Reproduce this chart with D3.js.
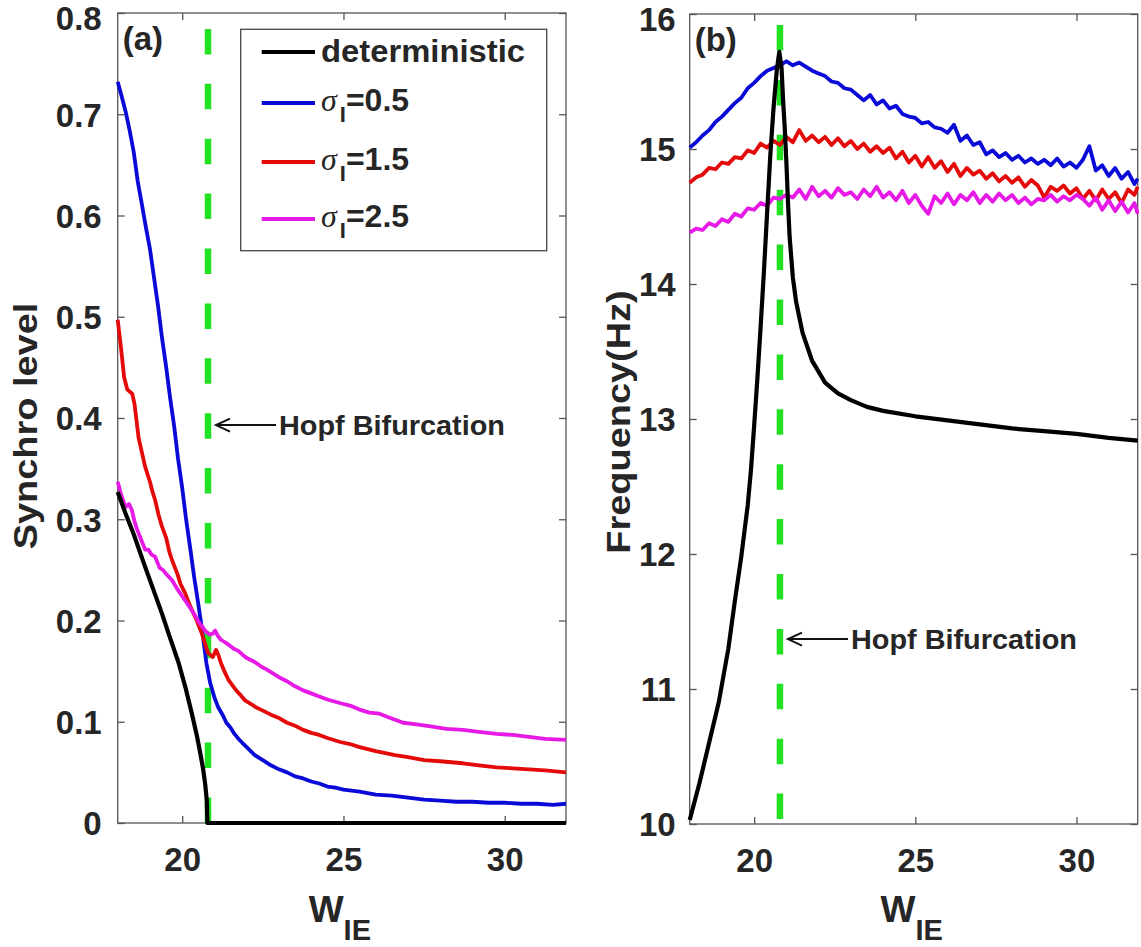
<!DOCTYPE html>
<html>
<head>
<meta charset="utf-8">
<script src="https://cdn.jsdelivr.net/npm/d3@7"></script>
<style>
  html, body { margin: 0; padding: 0; background: #fff; }
  svg { display: block; }
  text { font-family: "Liberation Sans", Arial, sans-serif; font-weight: bold; fill: #262626; }
</style>
</head>
<body>
<script>
// ---------------- data ----------------
const xTicks = [20, 25, 30];
const synchroTicks = [0, 0.1, 0.2, 0.3, 0.4, 0.5, 0.6, 0.7, 0.8];
const freqTicks = [10, 11, 12, 13, 14, 15, 16];
const hopfW = 20.8;          // Hopf bifurcation point of W_IE
const hopfLabelSynchro = 0.393;
const hopfLabelFreq = 11.37;

const seriesNames = ["deterministic", "0.5", "1.5", "2.5"];

// (a) synchronization level vs W_IE
const synchroDet = [[18,0.327],[18.24,0.306],[18.5,0.285],[18.85,0.253],[19.1,0.231],[19.37,0.207],[19.6,0.185],[19.89,0.158],[20.1,0.134],[20.3,0.108],[20.45,0.087],[20.56,0.069],[20.65,0.053],[20.71,0.039],[20.76,0.023],[20.78,0],[31.9,0]];
const synchroS05 = [[18,0.732],[18.12,0.718],[18.25,0.702],[18.37,0.684],[18.5,0.662],[18.62,0.634],[18.75,0.611],[18.87,0.589],[19,0.567],[19.12,0.540],[19.25,0.511],[19.37,0.480],[19.5,0.451],[19.62,0.421],[19.75,0.392],[19.87,0.360],[20,0.331],[20.12,0.300],[20.25,0.271],[20.37,0.243],[20.5,0.216],[20.62,0.190],[20.75,0.158],[20.87,0.138],[21,0.124],[21.12,0.114],[21.25,0.107],[21.37,0.099],[21.5,0.094],[21.62,0.088],[21.75,0.083],[21.87,0.079],[22,0.075],[22.25,0.067],[22.5,0.062],[22.75,0.057],[23,0.053],[23.25,0.050],[23.5,0.046],[23.75,0.044],[24,0.041],[24.25,0.039],[24.5,0.036],[24.75,0.035],[25,0.033],[25.5,0.031],[26,0.028],[26.5,0.027],[27,0.025],[27.5,0.023],[28,0.022],[28.5,0.021],[29,0.021],[29.5,0.020],[30,0.020],[30.5,0.019],[31,0.019],[31.5,0.018],[31.9,0.019]];
const synchroS15 = [[18,0.497],[18.1,0.470],[18.2,0.440],[18.3,0.428],[18.45,0.424],[18.52,0.414],[18.65,0.380],[18.75,0.366],[18.85,0.352],[19,0.337],[19.08,0.327],[19.16,0.319],[19.27,0.304],[19.37,0.293],[19.5,0.282],[19.6,0.268],[19.68,0.260],[19.85,0.246],[19.95,0.236],[20.09,0.227],[20.25,0.214],[20.35,0.207],[20.45,0.200],[20.61,0.187],[20.72,0.176],[20.8,0.168],[20.95,0.164],[21.05,0.171],[21.12,0.166],[21.2,0.158],[21.32,0.149],[21.44,0.141],[21.58,0.135],[21.7,0.130],[21.82,0.126],[21.95,0.121],[22.16,0.117],[22.3,0.114],[22.5,0.111],[22.75,0.107],[22.98,0.104],[23.25,0.099],[23.5,0.096],[23.75,0.092],[24,0.089],[24.25,0.087],[24.5,0.084],[24.9,0.080],[25.2,0.078],[25.5,0.075],[26,0.071],[26.3,0.069],[26.6,0.067],[27,0.065],[27.5,0.062],[28,0.061],[28.35,0.060],[28.7,0.059],[29.2,0.057],[29.75,0.055],[30.25,0.054],[30.75,0.053],[31.25,0.052],[31.9,0.050]];
const synchroS25 = [[18,0.337],[18.1,0.325],[18.24,0.312],[18.35,0.315],[18.44,0.309],[18.52,0.298],[18.6,0.290],[18.75,0.278],[18.85,0.270],[18.95,0.270],[19.05,0.265],[19.16,0.263],[19.3,0.252],[19.4,0.250],[19.5,0.246],[19.68,0.240],[19.85,0.231],[20,0.224],[20.15,0.217],[20.3,0.210],[20.4,0.205],[20.5,0.199],[20.6,0.195],[20.71,0.190],[20.85,0.186],[20.95,0.187],[21.02,0.190],[21.1,0.185],[21.2,0.181],[21.3,0.179],[21.4,0.177],[21.6,0.172],[21.74,0.170],[21.88,0.166],[22,0.163],[22.25,0.159],[22.47,0.154],[22.6,0.152],[22.75,0.149],[23,0.144],[23.25,0.140],[23.5,0.135],[23.75,0.131],[24,0.128],[24.25,0.125],[24.5,0.122],[24.94,0.118],[25.2,0.116],[25.5,0.112],[25.8,0.109],[26.12,0.108],[26.35,0.105],[26.6,0.102],[26.85,0.099],[27.15,0.098],[27.6,0.096],[28.2,0.093],[28.7,0.092],[29.2,0.090],[29.75,0.088],[30.25,0.087],[30.75,0.085],[31.25,0.083],[31.9,0.082]];

// (b) oscillation frequency vs W_IE
const freqDet = [[18,10.03],[18.3,10.3],[18.6,10.6],[18.9,10.9],[19.2,11.3],[19.4,11.65],[19.6,11.98],[19.8,12.36],[19.9,12.62],[20,12.95],[20.1,13.3],[20.2,13.68],[20.3,14.08],[20.4,14.52],[20.5,14.95],[20.6,15.3],[20.7,15.58],[20.78,15.72],[20.85,15.6],[20.9,15.35],[20.95,15.15],[21,14.9],[21.05,14.6],[21.1,14.35],[21.2,14.05],[21.3,13.87],[21.5,13.64],[21.8,13.43],[22.2,13.27],[22.6,13.19],[23,13.14],[23.5,13.09],[24,13.06],[25,13.02],[26,12.99],[27,12.96],[28,12.93],[29,12.91],[30,12.89],[31,12.86],[31.9,12.84]];
const freqW = [18,18.2,18.4,18.6,18.8,19,19.2,19.4,19.6,19.8,20,20.2,20.4,20.6,20.8,21,21.2,21.4,21.6,21.8,22,22.2,22.4,22.6,22.8,23,23.2,23.4,23.6,23.8,24,24.2,24.4,24.6,24.8,25,25.2,25.4,25.6,25.8,26,26.2,26.4,26.6,26.8,27,27.2,27.4,27.6,27.8,28,28.2,28.4,28.6,28.8,29,29.2,29.4,29.6,29.8,30,30.2,30.4,30.6,30.8,31,31.2,31.4,31.6,31.8,31.9];
const freqS05 = [15.01,15.05,15.10,15.14,15.20,15.24,15.29,15.34,15.38,15.45,15.49,15.54,15.58,15.60,15.62,15.65,15.62,15.64,15.61,15.58,15.56,15.54,15.50,15.49,15.45,15.44,15.40,15.36,15.40,15.33,15.36,15.30,15.32,15.26,15.24,15.23,15.19,15.20,15.16,15.15,15.12,15.18,15.06,15.10,15.03,15.05,14.96,14.99,14.94,14.97,14.92,14.95,14.90,14.93,14.89,14.92,14.88,14.93,14.87,14.90,14.86,14.92,15.02,14.84,14.88,14.80,14.86,14.78,14.83,14.74,14.78];
const freqS15 = [14.75,14.79,14.81,14.86,14.85,14.90,14.89,14.94,14.93,14.99,14.97,15.04,15.01,15.06,15.03,15.09,15.05,15.14,15.06,15.10,15.05,15.09,15.03,15.08,15.02,15.06,15.00,15.04,14.98,15.02,14.97,15.01,14.93,14.98,14.90,14.95,14.87,14.94,14.86,14.91,14.83,14.89,14.80,14.86,14.81,14.84,14.78,14.82,14.76,14.80,14.75,14.79,14.72,14.77,14.73,14.64,14.72,14.69,14.73,14.67,14.71,14.63,14.69,14.62,14.70,14.63,14.68,14.60,14.70,14.66,14.72];
const freqS25 = [14.38,14.41,14.40,14.45,14.43,14.48,14.46,14.52,14.50,14.56,14.55,14.60,14.58,14.64,14.63,14.66,14.64,14.70,14.63,14.72,14.65,14.69,14.64,14.71,14.66,14.68,14.63,14.70,14.65,14.72,14.64,14.68,14.62,14.69,14.60,14.66,14.58,14.52,14.65,14.60,14.67,14.59,14.66,14.62,14.68,14.60,14.66,14.61,14.67,14.62,14.66,14.60,14.64,14.59,14.63,14.62,14.66,14.61,14.65,14.62,14.66,14.63,14.58,14.64,14.55,14.62,14.54,14.61,14.53,14.60,14.52];

// ---------------- drawing ----------------
const colors = ["#000000", "#0a0ad8", "#e40a0a", "#e619e6"];
const green = "#22e022";

const svg = d3.select("body").append("svg")
  .attr("width", 1141).attr("height", 947);

function drawPanel(opt) {
  const x = d3.scaleLinear().domain([18, 31.9]).range([opt.left, opt.right]);
  const y = d3.scaleLinear().domain(opt.yDomain).range([opt.bottom, opt.top]);
  const g = svg.append("g");
  const axisColor = "#555";

  // frame
  g.append("rect")
    .attr("x", opt.left).attr("y", opt.top)
    .attr("width", opt.right - opt.left).attr("height", opt.bottom - opt.top)
    .attr("fill", "none").attr("stroke", axisColor).attr("stroke-width", 1.3);

  const styleAxis = sel => {
    sel.select(".domain").remove();
    sel.selectAll(".tick line").attr("stroke", axisColor).attr("stroke-width", 1.3);
    sel.selectAll(".tick text").attr("fill", "#262626")
      .style("font-size", "33px").style("font-weight", "bold")
      .style("font-family", '"Liberation Sans", Arial, sans-serif');
  };

  g.append("g").attr("transform", `translate(0,${opt.bottom})`)
    .call(d3.axisBottom(x).tickValues(xTicks).tickFormat(d3.format("d"))
      .tickSizeInner(-7).tickSizeOuter(0).tickPadding(25))
    .call(styleAxis);
  g.append("g").attr("transform", `translate(0,${opt.top})`)
    .call(d3.axisTop(x).tickValues(xTicks).tickFormat("")
      .tickSizeInner(-7).tickSizeOuter(0))
    .call(styleAxis);
  const yAxisG = g.append("g").attr("transform", `translate(${opt.left},0)`)
    .call(d3.axisLeft(y).tickValues(opt.yTicks).tickFormat(opt.yFormat)
      .tickSizeInner(-7).tickSizeOuter(0).tickPadding(opt.yPad))
    .call(styleAxis);
  // the topmost label sits a little below its tick, clear of the page edge
  yAxisG.selectAll(".tick text")
    .attr("dy", d => d === opt.yDomain[1] ? "0.5em" : "0.36em");
  g.append("g").attr("transform", `translate(${opt.right},0)`)
    .call(d3.axisRight(y).tickValues(opt.yTicks).tickFormat("")
      .tickSizeInner(-7).tickSizeOuter(0))
    .call(styleAxis);

  // Hopf bifurcation marker
  g.append("line")
    .attr("x1", x(hopfW)).attr("x2", x(hopfW))
    .attr("y1", y(opt.yDomain[0])).attr("y2", y(opt.yDomain[1]))
    .attr("stroke", green).attr("stroke-width", 6.5)
    .attr("stroke-dasharray", "25.5,29.4")
    .attr("stroke-dashoffset", opt.dashOffset);

  // curves
  const line = d3.line().x(d => x(d[0])).y(d => y(d[1]));
  const paths = opt.series.map((s, i) =>
    g.append("path").datum(s)
      .attr("d", line)
      .attr("fill", "none")
      .attr("stroke", colors[i])
      .attr("stroke-width", i === 0 ? 4.2 : 3.8)
      .attr("stroke-linejoin", "round"));
  // keep the deterministic curve on top
  paths[0].raise();

  // annotation arrow + label
  const ay = y(opt.hopfLabel);
  const tipX = x(hopfW) + 8;
  const textX = x(hopfW) + 71;
  g.append("line").attr("x1", tipX).attr("x2", textX - 3)
    .attr("y1", ay).attr("y2", ay)
    .attr("stroke", "#111").attr("stroke-width", 2);
  g.append("path")
    .attr("d", `M${tipX + 14},${ay - 6.5}L${tipX},${ay}L${tipX + 14},${ay + 6.5}`)
    .attr("fill", "none").attr("stroke", "#111").attr("stroke-width", 2);
  g.append("text").attr("x", textX).attr("y", ay + 10)
    .style("font-size", "28px")
    .attr("textLength", 226).attr("lengthAdjust", "spacingAndGlyphs")
    .text("Hopf Bifurcation");

  // panel tag
  g.append("text").attr("x", opt.left + 5).attr("y", opt.top + 37)
    .style("font-size", "33px").text(opt.tag);

  // x label W_IE
  const xl = g.append("text")
    .attr("x", (opt.left + opt.right) / 2 - 2).attr("y", 922)
    .attr("text-anchor", "middle");
  xl.append("tspan").style("font-size", "37px").text("W");
  xl.append("tspan").attr("dy", 18).style("font-size", "29px").text("IE");

  // y label, drawn slightly wide like the tick font
  g.append("text")
    .attr("transform", `translate(${opt.yLabelX},${opt.yLabelY}) rotate(-90) scale(1.15,1)`)
    .attr("text-anchor", "middle")
    .style("font-size", "33px").text(opt.yLabel);

  return { x, y, g };
}

drawPanel({
  left: 117.7, right: 566, top: 13, bottom: 823,
  yDomain: [0, 0.8], yTicks: synchroTicks, yFormat: d => d === 0 ? "0" : d3.format(".1f")(d),
  yPad: 16, dashOffset: 0, tag: "(a)", yLabel: "Synchro level", yLabelX: 37, yLabelY: 426,
  series: [synchroDet, synchroS05, synchroS15, synchroS25],
  hopfLabel: hopfLabelSynchro
});

drawPanel({
  left: 689.7, right: 1137.7, top: 14, bottom: 824,
  yDomain: [10, 16], yTicks: freqTicks, yFormat: d3.format("d"),
  yPad: 14, dashOffset: 50, tag: "(b)", yLabel: "Frequency(Hz)", yLabelX: 630, yLabelY: 422,
  series: [freqDet, freqW.map((w, i) => [w, freqS05[i]]),
           freqW.map((w, i) => [w, freqS15[i]]), freqW.map((w, i) => [w, freqS25[i]])],
  hopfLabel: hopfLabelFreq
});

// legend in panel (a)
const lg = svg.append("g");
lg.append("rect").attr("x", 240.7).attr("y", 29.3).attr("width", 306).attr("height", 221.4)
  .attr("fill", "#fff").attr("stroke", "#444").attr("stroke-width", 1.3);
const rowY = [52, 103, 162, 219];
seriesNames.forEach((name, i) => {
  const yy = rowY[i];
  lg.append("line").attr("x1", 261.7).attr("x2", 315).attr("y1", yy).attr("y2", yy)
    .attr("stroke", colors[i]).attr("stroke-width", 4);
  const t = lg.append("text").attr("x", 321).attr("y", yy + (i === 0 ? 10 : 8))
    .style("font-size", "32px");
  if (i === 0) {
    t.attr("textLength", 204).attr("lengthAdjust", "spacingAndGlyphs").text(name);
  } else {
    t.append("tspan").style("font-family", '"Liberation Serif", "Times New Roman", serif')
      .style("font-style", "italic").style("font-weight", "normal").text("σ");
    t.append("tspan").attr("dy", 11).attr("dx", 3).style("font-size", "22px").text("I");
    t.append("tspan").attr("dy", -11).text("=" + name);
  }
});
</script>
</body>
</html>
